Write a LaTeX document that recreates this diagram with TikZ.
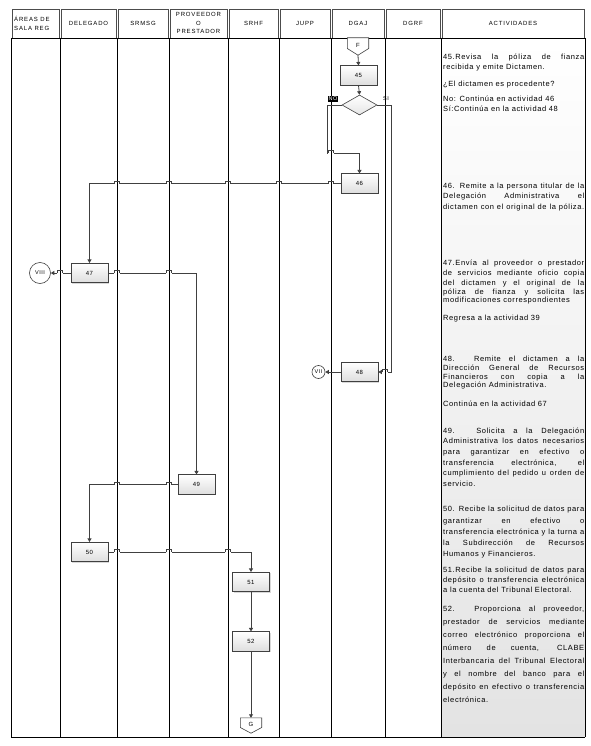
\documentclass[tikz,border=0pt]{standalone}
\usepackage{fontspec}
\newfontfamily\actfam[LetterSpace=8]{Liberation Sans}
\newfontfamily\hdrfam[LetterSpace=14]{Liberation Sans}
\usetikzlibrary{shapes.geometric,arrows.meta,shadows}
\newcommand{\actJ}[3]{\node[actline] (#1) at (443,#2) {\makebox[141pt][s]{#3}};}
\newcommand{\actL}[3]{\node[actline] (#1) at (443,#2) {#3};}
\newcommand{\hop}[2]{%
  \fill[white] (#1-2.7,#2-0.9) rectangle (#1+2.7,#2+0.9);
  \draw[lane] (#1,#2-2) -- (#1,#2+2);
  \draw[conline] (#1-2.6,#2) -- (#1-2.6,#2-2.4) -- (#1+2.6,#2-2.4) -- (#1+2.6,#2);}
\newcommand{\offpage}[1]{%
  \draw[draw=black!75, line width=0.6pt, fill=white]
    (#1.north west) -- (#1.north east) -- ([yshift=-2pt]#1.east) -- (#1.south)
    -- ([yshift=-2pt]#1.west) -- cycle;}
\begin{document}
\begin{tikzpicture}[x=1pt,y=-1pt,
  lane/.style={line width=0.8pt, black},
  hdr/.style={draw=black!70, line width=0.7pt, fill=white},
  hdrtxt/.style={font=\hdrfam\fontsize{6}{8.5}\selectfont, align=center, inner sep=0},
  actline/.style={anchor=base west, inner sep=0, font=\actfam\fontsize{7.5}{9}\selectfont},
  proc/.style={draw=black!75, line width=0.6pt, top color=white, bottom color=black!13,
     minimum width=37pt, minimum height=19.5pt, inner sep=0,
     font=\actfam\fontsize{6}{7}\selectfont,
     drop shadow={shadow xshift=1.2pt, shadow yshift=-1.2pt, fill=black!30, opacity=0.5}},
  decis/.style={diamond, draw=black!75, line width=0.6pt, top color=white, bottom color=black!10,
     minimum width=35pt, minimum height=20pt, inner sep=0, aspect=1.75},
  offp/.style={rectangle, minimum width=21pt, inner sep=0},
  offtxt/.style={inner sep=0, font=\actfam\fontsize{6}{7}\selectfont},
  onp/.style={circle, draw=black!75, line width=0.6pt, fill=white, inner sep=0,
     font=\actfam\fontsize{5.5}{7}\selectfont},
  conline/.style={draw=black!75, line width=0.8pt},
  arr/.style={conline, -{Triangle[length=3.5pt,width=4pt]}},
  lbl/.style={inner sep=0.6pt, font=\actfam\fontsize{5.5}{6}\selectfont}
]
\useasboundingbox (0,0) rectangle (590,746);
\fill[white] (0,0) rectangle (590,746);
% activities column shading
\shade[top color=white, bottom color=black!11] (441,38) rectangle (585,737);
% header cells
\foreach \a/\b/\n in {11/60/h1,60/117/h2,117/169/h3,169/228/h4,228/279/h5,279/331/h6,331/385/h7,385/441/h8,441/585/h9}
  \draw[hdr] (\a+1,9) rectangle (\b-1,38);
\node[hdrtxt, align=left, anchor=west] (t1) at (14,23.5) {ÁREAS DE\\SALA REG};
\node[hdrtxt] (t2) at (88.5,23.5) {DELEGADO};
\node[hdrtxt] (t3) at (143,23.5) {SRMSG};
\node[hdrtxt] (t4) at (198.5,23) {PROVEEDOR\\O\\PRESTADOR};
\node[hdrtxt] (t5) at (253.5,23.5) {SRHF};
\node[hdrtxt] (t6) at (305,23.5) {JUPP};
\node[hdrtxt] (t7) at (358,23.5) {DGAJ};
\node[hdrtxt] (t8) at (413,23.5) {DGRF};
\node[hdrtxt] (t9) at (513,23.5) {ACTIVIDADES};
% lanes
\foreach \x in {11,60,117,169,228,279,331,385,441,585}
  \draw[lane] (\x,38) -- (\x,737);
\draw[lane] (11,38) -- (585,38);
\draw[lane] (11,737) -- (585,737);

% nodes
\node[offp, minimum height=17pt] (F) at (358,46.5) {};
\offpage{F}
\node[offtxt] (Ft) at (358,45) {F};
\node[proc] (b45) at (358.5,75.5) {45};
\node[decis] (dia) at (359.5,105) {};
\node[proc] (b46) at (359.5,183.5) {46};
\node[proc] (b47) at (89.5,273) {47};
\node[onp, minimum size=21pt] (c8) at (40,273) {VIII};
\node[proc] (b48) at (359.5,372) {48};
\node[onp, minimum size=13pt] (c7) at (318.5,372) {VII};
\node[proc] (b49) at (196.5,484.5) {49};
\node[proc] (b50) at (89.5,552) {50};
\node[proc] (b51) at (251,582) {51};
\node[proc] (b52) at (251,641.5) {52};
\node[offp, minimum height=15pt] (G) at (251,725.5) {};
\offpage{G}
\node[offtxt] (Gt) at (251,724) {G};
\node[lbl, fill=black, text=white] (no) at (333,99) {NO};
\node[lbl] (si) at (386,98.5) {SI};

% connectors
\coordinate (n1) at (327,105);
\coordinate (n2) at (327,153);
\coordinate (s1) at (391,105);
\draw[arr] (F.south) -- (b45.north);
\draw[arr] (b45.south) -- (dia.north);
\draw[arr] (dia.west) -- (n1) -- (n2) -| (b46.north);
\draw[arr] (dia.east) -- (s1) |- (b48.east);
\draw[arr] (b46.west) -| (b47.north);
\draw[arr] (b47.west) -- (c8.east);
\draw[arr] (b47.east) -| (b49.north);
\draw[arr] (b49.west) -| (b50.north);
\draw[arr] (b50.east) -| (b51.north);
\draw[arr] (b51.south) -- (b52.north);
\draw[arr] (b52.south) -- (G.north);
\draw[arr] (b48.west) -- (c7.east);
% line hops
\hop{331}{183.5}\hop{279}{183.5}\hop{228}{183.5}\hop{169}{183.5}\hop{117}{183.5}
\hop{60}{273}\hop{117}{273}\hop{169}{273}
\hop{169}{484.5}\hop{117}{484.5}
\hop{117}{552}\hop{169}{552}\hop{228}{552}
\hop{331}{153}\hop{385}{372}

% activities text
\actJ{a1}{59.5}{45.Revisa la póliza de fianza}
\actL{a2}{69.5}{recibida y emite Dictamen.}
\actL{a3}{86.5}{¿El dictamen es procedente?}
\actL{a4}{101.5}{No: Continúa en actividad 46}
\actL{a5}{111.5}{Sí:Continúa en la actividad 48}
\actJ{a6}{188.5}{46. Remite a la persona titular de la}
\actJ{a7}{198.5}{Delegación Administrativa el}
\actJ{a8}{209.5}{dictamen con el original de la póliza.}
\actJ{a9}{265.5}{47.Envía al proveedor o prestador}
\actJ{a10}{275.5}{de servicios mediante oficio copia}
\actJ{a11}{285.5}{del dictamen y el original de la}
\actJ{a12}{294.5}{póliza de fianza y solicita las}
\actL{a13}{302.5}{modificaciones correspondientes}
\actL{a14}{320.5}{Regresa a la actividad 39}
\actJ{a15}{361.5}{48. Remite el dictamen a la}
\actJ{a16}{370.5}{Dirección General de Recursos}
\actJ{a17}{379.5}{Financieros con copia a la}
\actL{a18}{387.5}{Delegación Administrativa.}
\actL{a19}{406.5}{Continúa en la actividad 67}
\actJ{a20}{433.5}{49. Solicita a la Delegación}
\actJ{a21}{443.5}{Administrativa los datos necesarios}
\actJ{a22}{454.5}{para garantizar en efectivo o}
\actJ{a23}{465.5}{transferencia electrónica, el}
\actJ{a24}{475.5}{cumplimiento del pedido u orden de}
\actL{a25}{486.5}{servicio.}
\actJ{a26}{511.5}{50. Recibe la solicitud de datos para}
\actJ{a27}{523.5}{garantizar en efectivo o}
\actJ{a28}{534.5}{transferencia electrónica y la turna a}
\actJ{a29}{545.5}{la Subdirección de Recursos}
\actL{a30}{556.5}{Humanos y Financieros.}
\actJ{a31}{572.5}{51.Recibe la solicitud de datos para}
\actJ{a32}{582.5}{depósito o transferencia electrónica}
\actL{a33}{592.5}{a la cuenta del Tribunal Electoral.}
\actJ{a34}{611.5}{52. Proporciona al proveedor,}
\actJ{a35}{624.5}{prestador de servicios mediante}
\actJ{a36}{637.5}{correo electrónico proporciona el}
\actJ{a37}{650.5}{número de cuenta, CLABE}
\actJ{a38}{663.5}{Interbancaria del Tribunal Electoral}
\actJ{a39}{676.5}{y el nombre del banco para el}
\actJ{a40}{689.5}{depósito en efectivo o transferencia}
\actL{a41}{702.5}{electrónica.}
\end{tikzpicture}
\end{document}
